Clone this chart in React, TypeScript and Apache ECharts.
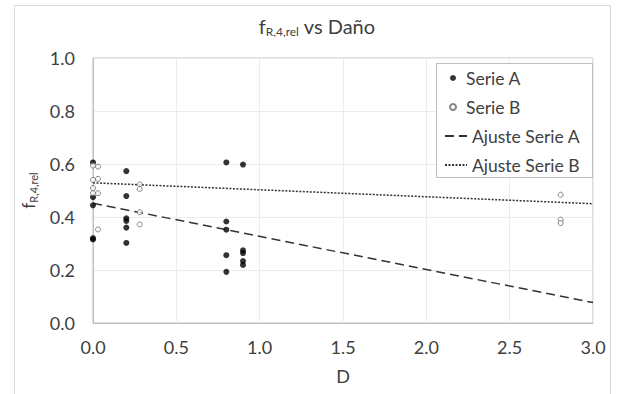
import React, { useEffect, useRef } from "react";
import * as echarts from "echarts";

// Serie A (filled markers)
const serieA_D = [0, 0, 0, 0, 0, 0.2, 0.2, 0.2, 0.2, 0.2, 0.2, 0.8, 0.8, 0.8, 0.8, 0.8, 0.9, 0.9, 0.9, 0.9, 0.9];
const serieA_f = [0.606, 0.475, 0.444, 0.32, 0.315, 0.573, 0.479, 0.395, 0.385, 0.36, 0.302, 0.606, 0.383, 0.352, 0.256, 0.193, 0.598, 0.274, 0.264, 0.234, 0.219];

// Serie B (open markers)
const serieB_D = [0, 0.03, 0, 0.03, 0, 0, 0.03, 0.03, 0.28, 0.28, 0.28, 0.28, 2.806, 2.806, 2.806];
const serieB_f = [0.594, 0.59, 0.54, 0.544, 0.509, 0.49, 0.49, 0.353, 0.523, 0.506, 0.418, 0.372, 0.484, 0.39, 0.377];

// Linear fits [intercept, slope]
const ajusteA = [0.452, -0.125];
const ajusteB = [0.529, -0.0263];
const fitRange = [0, 3];

const legendNames = ["Serie A", "Serie B", "Ajuste Serie A", "Ajuste Serie B"];

const FONT = "Lato, 'Open Sans', sans-serif";
const TXT = "#404040";

export default function App() {
  const ref = useRef<HTMLDivElement>(null);
  useEffect(() => {
    const chart = echarts.init(ref.current!, undefined, { renderer: "svg" });
    const pts = (xs: number[], ys: number[]) => xs.map((x, i) => [x, ys[i]]);
    const fitLine = (c: number[]) => fitRange.map((x) => [x, c[0] + c[1] * x]);
    chart.setOption({
      animation: false,
      backgroundColor: "#ffffff",
      textStyle: { fontFamily: FONT },
      title: {
        text: "{f|f}{s|R,4,rel}{f| vs Daño}",
        left: 312,
        textAlign: "center",
        top: 10,
        textStyle: {
          fontWeight: "normal",
          rich: {
            f: { fontSize: 20, color: TXT, fontFamily: FONT, fontWeight: "normal" },
            s: { fontSize: 12, color: TXT, fontFamily: FONT, fontWeight: "normal", padding: [10, 0, 0, 0] },
          },
        },
      },
      graphic: [
        {
          type: "rect",
          shape: { x: 14.5, y: 5.5, width: 596, height: 400 },
          style: { fill: "none", stroke: "#d9d9d9", lineWidth: 1 },
          z: 0,
          silent: true,
        },
        {
          type: "rect",
          shape: { x: 436.5, y: 63.5, width: 156, height: 114 },
          style: { fill: "#ffffff", stroke: "#bfbfbf", lineWidth: 1 },
          z: 5,
          silent: true,
        },
      ],
      legend: [
        {
          data: [legendNames[0], legendNames[1]],
          orient: "vertical",
          left: 449,
          top: 69,
          padding: 0,
          itemWidth: 16,
          itemHeight: 6,
          itemGap: 11,
          z: 10,
          textStyle: { fontSize: 17.5, color: TXT, fontFamily: FONT },
        },
        {
          data: [legendNames[2], legendNames[3]],
          orient: "vertical",
          left: 444,
          top: 127,
          padding: 0,
          itemWidth: 22,
          itemHeight: 6,
          itemGap: 11,
          z: 10,
          itemStyle: { opacity: 0 },
          textStyle: { fontSize: 17.5, color: TXT, fontFamily: FONT },
        },
      ],
      grid: {
        left: 93,
        top: 58,
        right: 24,
        bottom: 71,
        show: true,
        borderColor: "#bfbfbf",
        borderWidth: 1,
      },
      xAxis: {
        type: "value",
        min: 0,
        max: 3,
        interval: 0.5,
        name: "D",
        nameLocation: "middle",
        nameGap: 44,
        nameTextStyle: { fontSize: 18, color: TXT, fontFamily: FONT },
        axisLine: { show: true, lineStyle: { color: "#bfbfbf" } },
        axisTick: { show: false },
        splitLine: { show: true, lineStyle: { color: "#ececec" } },
        axisLabel: {
          fontSize: 18,
          color: TXT,
          fontFamily: FONT,
          margin: 15,
          formatter: (v: number) => v.toFixed(1),
        },
      },
      yAxis: {
        type: "value",
        min: 0,
        max: 1,
        interval: 0.2,
        name: "{f|f}{s|R,4,rel}",
        nameLocation: "middle",
        nameGap: 54,
        nameRotate: 90,
        nameTextStyle: {
          rich: {
            f: { fontSize: 17, color: TXT, fontFamily: FONT },
            s: { fontSize: 11, color: TXT, fontFamily: FONT, padding: [9, 0, 0, 0] },
          },
        },
        axisLine: { show: true, lineStyle: { color: "#bfbfbf" } },
        axisTick: { show: false },
        splitLine: { show: true, lineStyle: { color: "#ececec" } },
        axisLabel: {
          fontSize: 18,
          color: TXT,
          fontFamily: FONT,
          margin: 18,
          formatter: (v: number) => v.toFixed(1),
        },
      },
      series: [
        {
          name: legendNames[0],
          type: "scatter",
          data: pts(serieA_D, serieA_f),
          symbol: "circle",
          symbolSize: 6,
          itemStyle: { color: "#000000" },
          z: 3,
        },
        {
          name: legendNames[1],
          type: "scatter",
          data: pts(serieB_D, serieB_f),
          symbol: "circle",
          symbolSize: 5,
          itemStyle: { color: "#ffffff", borderColor: "#666666", borderWidth: 1 },
          z: 3,
        },
        {
          name: legendNames[2],
          type: "line",
          data: fitLine(ajusteA),
          symbol: "none",
          showSymbol: false,
          itemStyle: { color: "#333333" },
          lineStyle: { color: "#333333", width: 1.5, type: [9, 5] },
          z: 2,
        },
        {
          name: legendNames[3],
          type: "line",
          data: fitLine(ajusteB),
          symbol: "none",
          showSymbol: false,
          itemStyle: { color: "#333333" },
          lineStyle: { color: "#333333", width: 1.5, type: [2, 1.5] },
          z: 2,
        },
      ],
    });
    return () => chart.dispose();
  }, []);
  return (
    <div
      ref={ref}
      style={{ position: "fixed", left: 0, top: 0, width: 617, height: 394 }}
    />
  );
}
